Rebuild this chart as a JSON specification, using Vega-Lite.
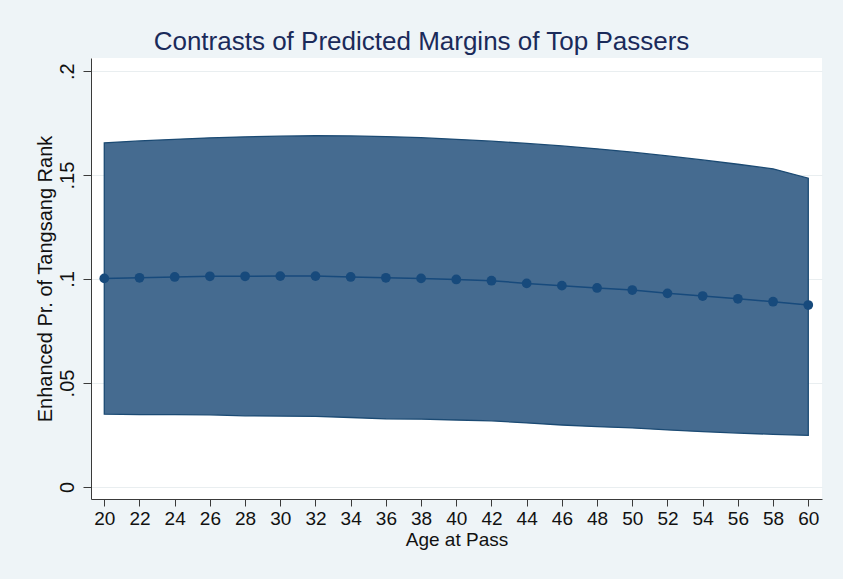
{
  "$schema": "https://vega.github.io/schema/vega-lite/v6.json",
  "width": 731,
  "height": 441,
  "autosize": {"type": "none"},
  "padding": {"left": 91, "top": 58, "right": 21, "bottom": 80},
  "background": "#eef4f7",
  "config": {
    "view": {"fill": "white", "stroke": null},
    "font": "Liberation Sans",
    "axis": {
      "domainColor": "#3a3a3a",
      "tickColor": "#3a3a3a",
      "labelColor": "#111111",
      "titleColor": "#111111",
      "labelFont": "Liberation Sans",
      "titleFont": "Liberation Sans",
      "titleFontWeight": "normal"
    }
  },
  "title": {
    "text": "Contrasts of Predicted Margins of Top Passers",
    "font": "Liberation Sans",
    "fontSize": 26,
    "fontWeight": "normal",
    "color": "#1a2a5a",
    "anchor": "middle",
    "dx": -35,
    "offset": 3
  },
  "data": {
    "values": [
      {"age": 20, "margin": 0.1003, "lower": 0.0350, "upper": 0.1655},
      {"age": 22, "margin": 0.1006, "lower": 0.0348, "upper": 0.1664},
      {"age": 24, "margin": 0.1010, "lower": 0.0348, "upper": 0.1672},
      {"age": 26, "margin": 0.1013, "lower": 0.0347, "upper": 0.1679},
      {"age": 28, "margin": 0.1013, "lower": 0.0342, "upper": 0.1684},
      {"age": 30, "margin": 0.1014, "lower": 0.0341, "upper": 0.1687},
      {"age": 32, "margin": 0.1014, "lower": 0.0339, "upper": 0.1689},
      {"age": 34, "margin": 0.1010, "lower": 0.0334, "upper": 0.1688},
      {"age": 36, "margin": 0.1006, "lower": 0.0327, "upper": 0.1685},
      {"age": 38, "margin": 0.1003, "lower": 0.0326, "upper": 0.1680},
      {"age": 40, "margin": 0.0998, "lower": 0.0322, "upper": 0.1672},
      {"age": 42, "margin": 0.0992, "lower": 0.0318, "upper": 0.1663},
      {"age": 44, "margin": 0.0979, "lower": 0.0308, "upper": 0.1652},
      {"age": 46, "margin": 0.0968, "lower": 0.0298, "upper": 0.1640},
      {"age": 48, "margin": 0.0957, "lower": 0.0290, "upper": 0.1626},
      {"age": 50, "margin": 0.0947, "lower": 0.0284, "upper": 0.1610},
      {"age": 52, "margin": 0.0931, "lower": 0.0274, "upper": 0.1592},
      {"age": 54, "margin": 0.0918, "lower": 0.0266, "upper": 0.1573},
      {"age": 56, "margin": 0.0905, "lower": 0.0259, "upper": 0.1552},
      {"age": 58, "margin": 0.0891, "lower": 0.0253, "upper": 0.1530},
      {"age": 60, "margin": 0.0875, "lower": 0.0248, "upper": 0.1485}
    ]
  },
  "encoding": {
    "x": {
      "field": "age",
      "type": "quantitative",
      "scale": {"domain": [19.245, 60.78], "nice": false, "zero": false},
      "axis": {
        "title": "Age at Pass",
        "values": [20, 22, 24, 26, 28, 30, 32, 34, 36, 38, 40, 42, 44, 46, 48, 50, 52, 54, 56, 58, 60],
        "labelFontSize": 19,
        "titleFontSize": 19,
        "tickSize": 7,
        "labelPadding": 3,
        "titlePadding": 2,
        "grid": false,
        "labelFlush": false,
        "labelOverlap": false
      }
    }
  },
  "layer": [
    {
      "mark": {"type": "area", "fill": "#456b90", "stroke": "#1b4a73", "strokeWidth": 1.3, "fillOpacity": 1},
      "encoding": {
        "y": {
          "field": "upper",
          "type": "quantitative",
          "scale": {"domain": [-0.0058, 0.2063], "nice": false, "zero": false},
          "axis": {
            "title": "Enhanced Pr. of Tangsang Rank",
            "values": [0, 0.05, 0.1, 0.15, 0.2],
            "labelExpr": "datum.value == 0 ? '0' : substring(format(datum.value, '.2~f'), 1)",
            "labelAngle": -90,
            "labelAlign": "center",
            "labelBaseline": "bottom",
            "labelFontSize": 20,
            "titleFontSize": 20,
            "tickSize": 8,
            "labelPadding": 6,
            "titlePadding": 2,
            "grid": true,
            "gridColor": "#e9eef0",
            "gridWidth": 1
          }
        },
        "y2": {"field": "lower"}
      }
    },
    {
      "mark": {"type": "line", "color": "#174a7c", "strokeWidth": 1.5},
      "encoding": {"y": {"field": "margin", "type": "quantitative"}}
    },
    {
      "mark": {"type": "point", "filled": true, "size": 95, "color": "#174a7c", "opacity": 1},
      "encoding": {"y": {"field": "margin", "type": "quantitative"}}
    }
  ]
}
